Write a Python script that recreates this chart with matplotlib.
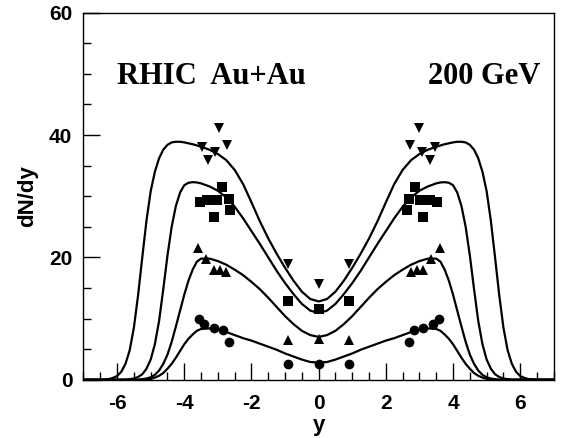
import matplotlib

matplotlib.use("Agg")
matplotlib.rcParams["axes.unicode_minus"] = False
import matplotlib.pyplot as plt
from matplotlib.ticker import MultipleLocator

# finer sampling over the shoulders where the curves bend sharply
curve_x = [0.0, 0.25, 0.5, 0.75, 1.0, 1.25, 1.5, 1.75, 2.0, 2.25, 2.5, 2.75,
           3.0, 3.25,
           3.5, 3.625, 3.75, 3.875, 4.0, 4.125, 4.25, 4.375, 4.5, 4.625,
           4.75, 4.875, 5.0, 5.125, 5.25, 5.375, 5.5, 5.625, 5.75, 5.875,
           6.0, 6.125, 6.25, 6.375, 6.5,
           6.75, 7.0]
curve_tri_down = [12.8, 13.2, 14.4, 16.2, 18.3, 20.6, 23.1, 25.9, 29.0, 32.0,
                  34.3, 35.9, 36.9, 37.6,
                  38.1, 38.3, 38.5, 38.65, 38.8, 38.9, 38.9, 38.8, 38.4, 37.6,
                  36.2, 34.0, 30.8, 26.0, 20.0, 13.8, 8.5, 4.8, 2.6, 1.3,
                  0.6, 0.3, 0.1, 0.05, 0.0,
                  0.0, 0.0]
curve_square = [10.9, 11.3, 12.4, 14.0, 15.8, 17.8, 20.0, 22.2, 24.3, 26.4,
                28.3, 29.8, 30.9, 31.6,
                32.1, 32.25, 32.3, 32.2, 31.8, 30.6, 28.4, 25.0, 20.3, 14.8,
                9.6, 5.8, 3.3, 1.8, 0.9, 0.45, 0.2, 0.1, 0.0, 0.0,
                0.0, 0.0, 0.0, 0.0, 0.0,
                0.0, 0.0]
curve_tri_up = [7.0, 7.3, 8.0, 9.1, 10.4, 11.9, 13.4, 14.8, 16.0, 17.1,
                18.0, 18.8, 19.4, 19.8,
                19.8, 19.3, 18.0, 16.2, 13.9, 11.3, 8.7, 6.2, 4.1, 2.6,
                1.5, 0.8, 0.4, 0.2, 0.1, 0.0, 0.0, 0.0, 0.0, 0.0,
                0.0, 0.0, 0.0, 0.0, 0.0,
                0.0, 0.0]
curve_circle = [2.8, 2.9, 3.3, 3.8, 4.3, 4.9, 5.4, 5.9, 6.4, 6.8,
                7.3, 7.8, 8.2, 8.4,
                8.3, 8.0, 7.4, 6.7, 5.8, 4.7, 3.6, 2.6, 1.8, 1.1,
                0.65, 0.35, 0.15, 0.05, 0.0, 0.0, 0.0, 0.0, 0.0, 0.0,
                0.0, 0.0, 0.0, 0.0, 0.0,
                0.0, 0.0]

# data points: midrapidity, and forward points (reflected to y < 0)
mid_x = [-0.9, 0.0, 0.9]
mid_tri_down = [18.9, 15.6, 18.9]
mid_square = [12.9, 11.5, 12.9]
mid_tri_up = [6.5, 6.6, 6.5]
mid_circle = [2.5, 2.5, 2.5]

fwd_tri_down_x = [2.73, 2.98, 3.08, 3.30, 3.47]
fwd_tri_down = [38.4, 41.1, 37.3, 35.9, 38.1]
fwd_square_x = [2.63, 2.68, 2.88, 3.03, 3.12, 3.32, 3.52]
fwd_square = [27.7, 29.6, 31.5, 29.4, 26.6, 29.4, 29.1]
fwd_tri_up_x = [2.75, 2.93, 3.12, 3.34, 3.60]
fwd_tri_up = [17.6, 18.0, 18.0, 19.7, 21.5]
fwd_circle_x = [2.68, 2.85, 3.12, 3.40, 3.57]
fwd_circle = [6.2, 8.1, 8.4, 9.1, 9.9]

fig = plt.figure(figsize=(5.64, 4.38), dpi=100)
ax = fig.add_axes([0.148, 0.133, 0.834, 0.838])

full_x = [-v for v in curve_x[::-1]] + curve_x[1:]
for half in (curve_tri_down, curve_square, curve_tri_up, curve_circle):
    full = half[::-1] + half[1:]
    ax.plot(full_x, full, color="black", lw=1.6,
            solid_capstyle="round", solid_joinstyle="round")

series = [
    ("v", 7.5, mid_tri_down, fwd_tri_down_x, fwd_tri_down),
    ("s", 7.5, mid_square, fwd_square_x, fwd_square),
    ("^", 7.5, mid_tri_up, fwd_tri_up_x, fwd_tri_up),
    ("o", 7, mid_circle, fwd_circle_x, fwd_circle),
]
for marker, ms, mid, fx, fy in series:
    xs = mid_x + fx + [-v for v in fx]
    ys = mid + fy + fy
    ax.plot(xs, ys, linestyle="none", marker=marker, ms=ms,
            color="black", markeredgewidth=0)

ax.set_xlim(-7, 7)
ax.set_ylim(0, 60)
ax.xaxis.set_major_locator(MultipleLocator(2))
ax.xaxis.set_minor_locator(MultipleLocator(0.5))
ax.yaxis.set_major_locator(MultipleLocator(20))
ax.yaxis.set_minor_locator(MultipleLocator(5))
ax.tick_params(which="both", direction="in", top=False, right=False,
               width=1.0)
ax.tick_params(which="major", length=12)
ax.tick_params(which="minor", length=6)
ax.tick_params(axis="y", which="major", pad=8)
ax.tick_params(axis="x", which="major", pad=10)
for lab in ax.get_xticklabels() + ax.get_yticklabels():
    lab.set_family("Liberation Sans")
    lab.set_fontweight("bold")
    lab.set_fontsize(15)
for sp in ax.spines.values():
    sp.set_linewidth(1.0)

ax.set_xlabel("y", family="Liberation Sans", fontweight="bold",
              fontsize=16, labelpad=2)
ax.set_ylabel("dN/dy", family="Liberation Sans", fontweight="bold",
              fontsize=16, labelpad=8)

ax.text(-6.0, 49.5, "RHIC  Au+Au", family="Liberation Serif",
        fontweight="bold", fontsize=22, ha="left", va="center")
ax.text(6.6, 49.5, "200 GeV", family="Liberation Serif",
        fontweight="bold", fontsize=22, ha="right", va="center")

fig.savefig("out.png", dpi=100)
